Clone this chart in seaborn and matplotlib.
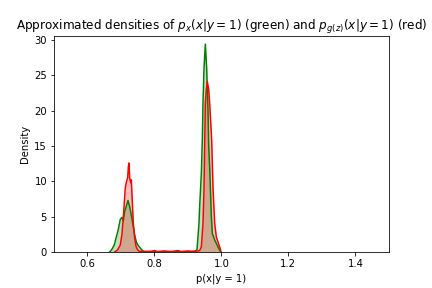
import numpy as np
import pandas as pd
import matplotlib
matplotlib.use("Agg")
import matplotlib.pyplot as plt
import seaborn as sns

# density curves (x position, density)
green_x = [0.666, 0.672, 0.680, 0.686, 0.692, 0.698, 0.703, 0.707, 0.711, 0.716, 0.721,
           0.726, 0.731, 0.736, 0.741, 0.746, 0.751, 0.757, 0.762, 0.768, 0.780,
           0.820, 0.870, 0.910, 0.920, 0.927, 0.933, 0.935, 0.940, 0.943, 0.945,
           0.948, 0.952, 0.956, 0.960, 0.962, 0.965, 0.970, 0.973, 0.980, 0.990, 0.998]
green_y = [0.0, 0.3, 1.0, 2.1, 3.2, 4.6, 4.9, 4.4, 5.7, 6.5, 7.3,
           6.4, 5.2, 3.8, 2.4, 1.4, 0.95, 0.6, 0.3, 0.1, 0.05,
           0.05, 0.05, 0.05, 0.1, 0.3, 4.0, 6.4, 11.0, 15.8, 21.0,
           26.0, 29.4, 26.0, 20.0, 15.0, 12.0, 5.0, 2.6, 1.7, 0.7, 0.0]

red_x = [0.681, 0.690, 0.698, 0.703, 0.708, 0.712, 0.714, 0.717, 0.720, 0.722, 0.724,
         0.726, 0.729, 0.731, 0.734, 0.737, 0.741, 0.745, 0.750, 0.755, 0.770,
         0.790, 0.800, 0.810, 0.830, 0.850, 0.870, 0.880, 0.900, 0.910, 0.925,
         0.935, 0.940, 0.945, 0.948, 0.950, 0.952, 0.955, 0.958, 0.962, 0.965,
         0.971, 0.975, 0.980, 0.985, 0.995, 0.999]
red_y = [0.0, 0.3, 1.0, 2.5, 5.5, 8.5, 9.4, 10.0, 10.5, 12.0, 12.6,
         10.5, 9.8, 10.2, 7.0, 4.0, 2.0, 0.8, 0.3, 0.1, 0.05,
         0.1, 0.2, 0.05, 0.15, 0.05, 0.2, 0.05, 0.15, 0.1, 0.1,
         0.2, 0.7, 4.0, 8.7, 15.0, 21.0, 23.0, 24.1, 23.0, 21.0,
         15.8, 9.0, 4.0, 2.1, 0.7, 0.0]

fig, ax = plt.subplots(figsize=(6, 4), dpi=72)
fig.subplots_adjust(left=0.125, right=0.9, bottom=0.125, top=0.875)

for xs, ys, col in [(green_x, green_y, "green"), (red_x, red_y, "red")]:
    df = pd.DataFrame({"x": xs, "y": ys})
    ax.fill_between(df["x"], df["y"], color=col, alpha=0.25, linewidth=0)
    sns.lineplot(data=df, x="x", y="y", color=col, linewidth=1.5, ax=ax)

ax.set_xlim(0.5, 1.5)
ax.set_ylim(0, 30.55)
ax.set_xticks([0.6, 0.8, 1.0, 1.2, 1.4])
ax.set_yticks([0, 5, 10, 15, 20, 25, 30])
ax.set_xlabel("p(x|y = 1)")
ax.set_ylabel("Density")
ax.set_title(r"Approximated densities of $p_x(x|y=1)$ (green) and $p_{g(z)}(x|y=1)$ (red)")

fig.savefig("out.png", dpi=72)
